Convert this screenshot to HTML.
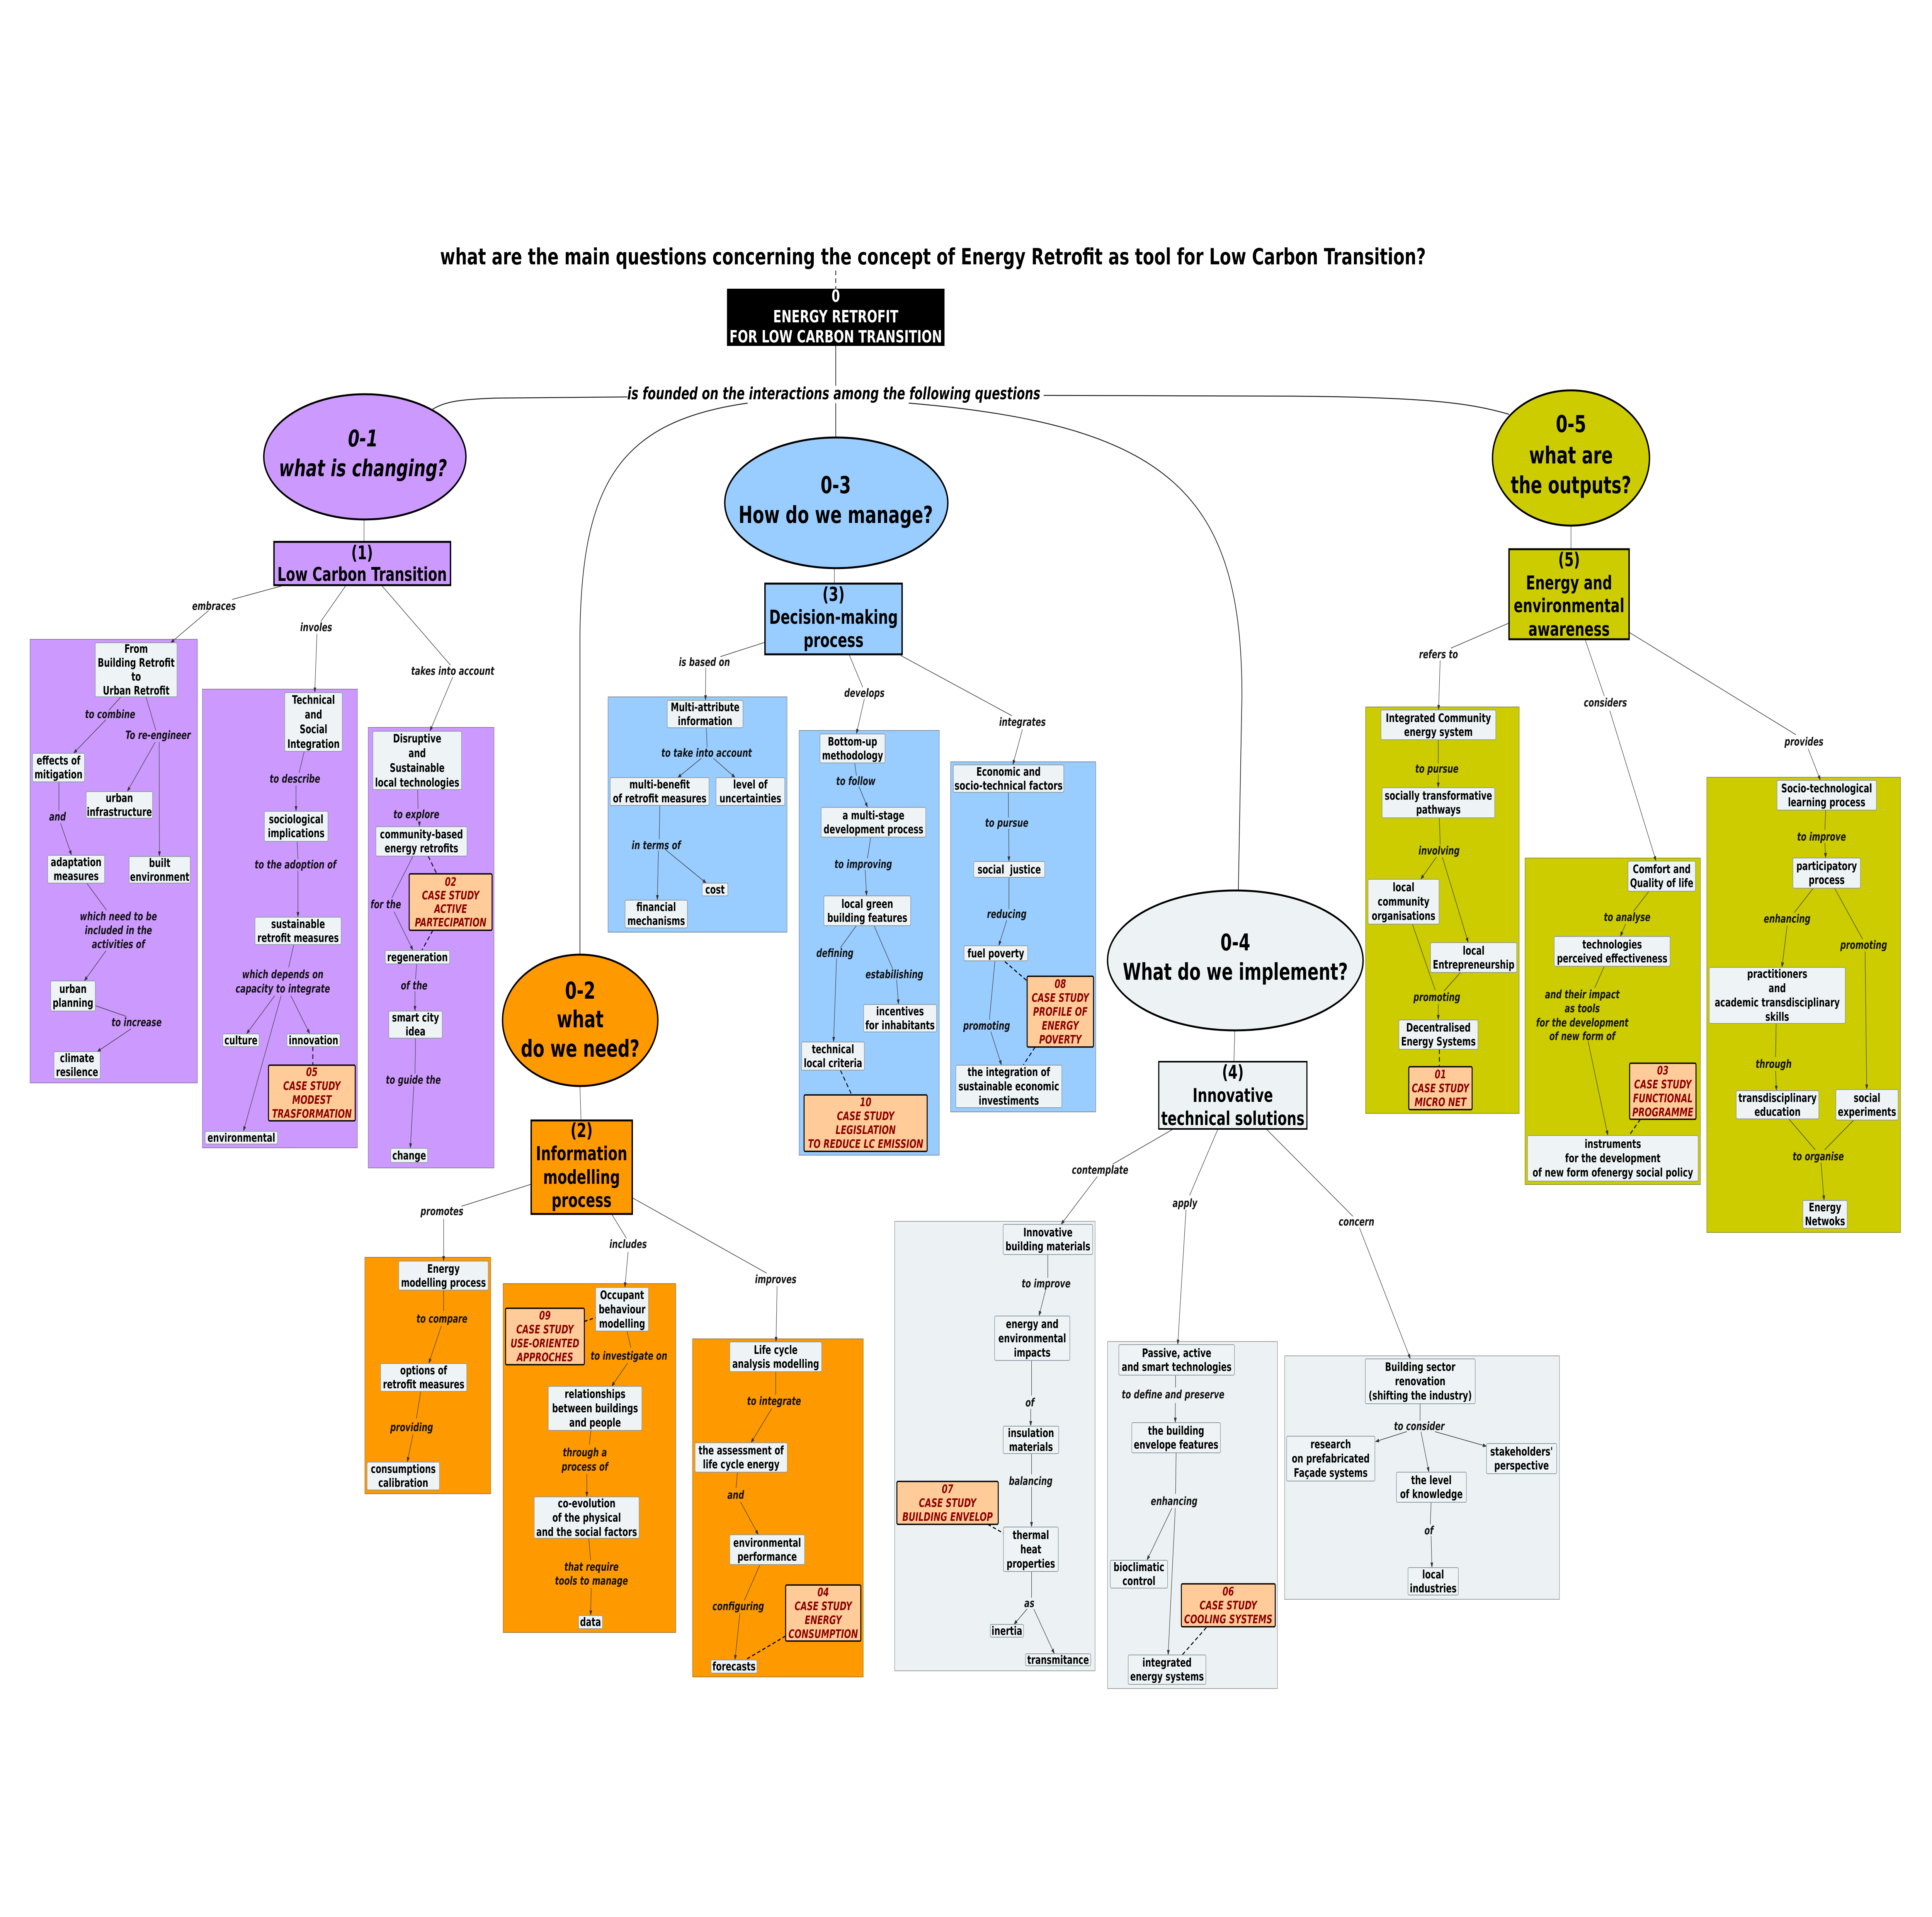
<!DOCTYPE html>
<html><head><meta charset="utf-8"><title>Energy Retrofit concept map</title>
<style>
html,body{margin:0;padding:0;background:#fff;width:100%;height:100%;overflow:hidden;}
svg{display:block;position:absolute;left:0;top:0;width:100vw;height:100vh;}
.cont{stroke:rgba(0,0,0,0.35);stroke-width:2;}
.pu{fill:#CC99FF;} .bl{fill:#99CCFF;} .ye{fill:#CCCC00;} .or{fill:#FF9900;} .gr{fill:#ECF2F4;}
.n{fill:#EEF3F5;stroke:#8E9CA3;stroke-width:2;}
.c{fill:#FFCC99;stroke:#000;stroke-width:3.5;}
.m{stroke:#000;stroke-width:5;}
.t{font:bold 30px "DejaVu Sans","Liberation Sans",sans-serif;text-anchor:middle;fill:#000;}
.ct{font:italic bold 30px "DejaVu Sans","Liberation Sans",sans-serif;text-anchor:middle;fill:#8B0000;}
.l{font:italic bold 29px "DejaVu Sans","Liberation Sans",sans-serif;text-anchor:middle;fill:#111;}
.big{font:bold 50px "DejaVu Sans","Liberation Sans",sans-serif;text-anchor:middle;fill:#000;}
.ell{font:bold 61px "DejaVu Sans","Liberation Sans",sans-serif;text-anchor:middle;fill:#000;}
.elli{font:italic bold 60px "DejaVu Sans","Liberation Sans",sans-serif;text-anchor:middle;fill:#000;}
.ln{stroke:#444;stroke-width:1.8;fill:none;}
.ar{stroke:#444;stroke-width:1.8;fill:none;marker-end:url(#a);}
.ds{stroke:#000;stroke-width:3;fill:none;stroke-dasharray:12 8;}
.mc{stroke:#222;stroke-width:2.5;fill:none;}
</style></head>
<body>
<svg xmlns="http://www.w3.org/2000/svg" viewBox="0 0 7016 4960" preserveAspectRatio="none">
<defs>
<marker id="a" markerWidth="14" markerHeight="10" refX="13" refY="5" orient="auto" markerUnits="userSpaceOnUse"><path d="M0,0 L14,5 L0,10 z" fill="#333"/></marker>
</defs>
<rect x="0" y="0" width="7016" height="4960" fill="#fff"/>

<!-- CONTAINERS -->
<rect class="cont pu" x="109" y="1654" width="608" height="1148"/>
<rect class="cont pu" x="735" y="1783" width="563" height="1187"/>
<rect class="cont pu" x="1337" y="1882" width="457" height="1140"/>
<rect class="cont bl" x="2208" y="1803" width="650" height="609"/>
<rect class="cont bl" x="2902" y="1890" width="509" height="1099"/>
<rect class="cont bl" x="3452" y="1971" width="527" height="906"/>
<rect class="cont ye" x="4959" y="1829" width="558" height="1052"/>
<rect class="cont ye" x="5538" y="2220" width="637" height="845"/>
<rect class="cont ye" x="6198" y="2011" width="704" height="1178"/>
<rect class="cont or" x="1325" y="3253" width="457" height="612"/>
<rect class="cont or" x="1827" y="3321" width="627" height="903"/>
<rect class="cont or" x="2515" y="3464" width="620" height="875"/>
<rect class="cont gr" x="3249" y="3160" width="728" height="1163"/>
<rect class="cont gr" x="4022" y="3471" width="617" height="898"/>
<rect class="cont gr" x="4665" y="3508" width="998" height="630"/>

<!-- MAIN CONNECTORS -->
<path class="ds" d="M3035,700 L3035,747" style="stroke-width:2.5"/>
<path class="mc" d="M3035,895 L3035,998"/>
<path class="mc" d="M3035,1043 L3035,1132"/>
<path class="mc" d="M2278,1027 L1800,1030 C1680,1033 1610,1038 1565,1062"/>
<path class="mc" d="M3790,1023 L4700,1025 C5150,1028 5330,1040 5480,1072"/>
<path class="mc" d="M2715,1043 C2250,1090 2110,1250 2106,1650 L2106,2470"/>
<path class="mc" d="M3300,1043 C4250,1100 4510,1280 4510,1800 L4497,2304"/>
<path class="ln" d="M1322,1344 L1322,1402"/>
<path class="ln" d="M3030,1470 L3030,1510"/>
<path class="ln" d="M5705,1360 L5705,1421"/>
<path class="ln" d="M2106,2810 L2110,2899"/>
<path class="ln" d="M4484,2666 L4481,2747"/>

<!-- A connectors -->
<path class="ln" d="M1033,1514 L843,1551"/>
<path class="ar" d="M757,1580 L620,1663"/>
<path class="ln" d="M439,1803 L395,1838"/>
<path class="ar" d="M385,1862 L267,1949"/>
<path class="ln" d="M530,1803 L566,1890"/>
<path class="ar" d="M564,1920 L462,2048"/>
<path class="ar" d="M578,1920 L579,2216"/>
<path class="ln" d="M214,2023 L214,2098"/>
<path class="ar" d="M220,2130 L260,2213"/>
<path class="ln" d="M315,2285 L387,2355"/>
<path class="ar" d="M385,2460 L306,2538"/>
<path class="ln" d="M346,2602 L459,2630"/>
<path class="ar" d="M476,2662 L353,2721"/>
<!-- B connectors -->
<path class="ln" d="M1257,1514 L1165,1608"/>
<path class="ar" d="M1151,1640 L1143,1792"/>
<path class="ln" d="M1105,1944 L1086,2000"/>
<path class="ar" d="M1075,2032 L1075,2099"/>
<path class="ln" d="M1079,2177 L1082,2223"/>
<path class="ar" d="M1082,2253 L1082,2373"/>
<path class="ln" d="M1067,2444 L1048,2503"/>
<path class="ar" d="M998,2576 L895,2675"/>
<path class="ar" d="M1056,2576 L1125,2675"/>
<path class="ar" d="M1021,2576 L884,2927"/>
<path class="ds" d="M1136,2708 L1136,2756"/>
<!-- C connectors -->
<path class="ln" d="M1385,1514 L1636,1721"/>
<path class="ar" d="M1644,1752 L1561,1892"/>
<path class="ln" d="M1517,2043 L1518,2093"/>
<path class="ar" d="M1523,2124 L1523,2139"/>
<path class="ln" d="M1500,2215 L1423,2323"/>
<path class="ar" d="M1431,2359 L1500,2459"/>
<path class="ds" d="M1555,2215 L1586,2261"/>
<path class="ds" d="M1572,2407 L1532,2459"/>
<path class="ln" d="M1513,2494 L1509,2534"/>
<path class="ar" d="M1507,2565 L1507,2616"/>
<path class="ln" d="M1509,2686 L1507,2778"/>
<path class="ar" d="M1503,2809 L1490,2971"/>
<!-- D connectors -->
<path class="ln" d="M2777,1662 L2616,1699"/>
<path class="ar" d="M2563,1728 L2562,1812"/>
<path class="ln" d="M2565,1883 L2568,1934"/>
<path class="ar" d="M2547,1962 L2461,2012"/>
<path class="ar" d="M2591,1962 L2670,2012"/>
<path class="ln" d="M2396,2084 L2394,2172"/>
<path class="ar" d="M2391,2201 L2387,2329"/>
<path class="ar" d="M2416,2198 L2565,2285"/>
<!-- E connectors -->
<path class="ln" d="M3083,1693 L3133,1778"/>
<path class="ar" d="M3139,1808 L3110,1899"/>
<path class="ln" d="M3104,1974 L3110,2007"/>
<path class="ar" d="M3119,2035 L3151,2089"/>
<path class="ln" d="M3162,2166 L3150,2221"/>
<path class="ar" d="M3142,2251 L3147,2318"/>
<path class="ln" d="M3110,2395 L3052,2452"/>
<path class="ar" d="M3038,2480 L3027,2696"/>
<path class="ln" d="M3174,2395 L3242,2507"/>
<path class="ar" d="M3256,2535 L3263,2599"/>
<path class="ds" d="M3052,2769 L3093,2833"/>
<!-- F connectors -->
<path class="ln" d="M3271,1696 L3675,1852"/>
<path class="ar" d="M3713,1887 L3678,1979"/>
<path class="ln" d="M3662,2050 L3662,2115"/>
<path class="ar" d="M3663,2144 L3664,2229"/>
<path class="ln" d="M3664,2270 L3664,2352"/>
<path class="ar" d="M3656,2381 L3627,2447"/>
<path class="ln" d="M3613,2486 L3593,2638"/>
<path class="ar" d="M3598,2669 L3637,2756"/>
<path class="ds" d="M3649,2488 L3730,2538"/>
<path class="ds" d="M3759,2709 L3716,2756"/>
<!-- G connectors -->
<path class="ln" d="M5480,1612 L5269,1677"/>
<path class="ar" d="M5230,1709 L5224,1837"/>
<path class="ln" d="M5223,1914 L5223,1975"/>
<path class="ar" d="M5223,2004 L5223,2038"/>
<path class="ln" d="M5227,2116 L5230,2185"/>
<path class="ar" d="M5216,2218 L5159,2275"/>
<path class="ar" d="M5238,2218 L5332,2439"/>
<path class="ln" d="M5129,2391 L5212,2562"/>
<path class="ln" d="M5304,2516 L5244,2564"/>
<path class="ar" d="M5223,2597 L5223,2639"/>
<path class="ds" d="M5227,2715 L5227,2760"/>
<!-- H connectors -->
<path class="ln" d="M5756,1654 L5826,1801"/>
<path class="ar" d="M5846,1839 L6014,2228"/>
<path class="ln" d="M5988,2306 L5932,2358"/>
<path class="ar" d="M5903,2391 L5884,2423"/>
<path class="ln" d="M5826,2500 L5791,2556"/>
<path class="ar" d="M5767,2694 L5839,2938"/>
<path class="ds" d="M5957,2896 L5916,2938"/>
<!-- I connectors -->
<path class="ln" d="M5916,1636 L6522,1901"/>
<path class="ar" d="M6566,1937 L6611,2019"/>
<path class="ln" d="M6630,2096 L6627,2147"/>
<path class="ar" d="M6627,2181 L6630,2220"/>
<path class="ln" d="M6585,2298 L6515,2362"/>
<path class="ar" d="M6490,2395 L6471,2503"/>
<path class="ln" d="M6662,2298 L6764,2430"/>
<path class="ar" d="M6773,2462 L6779,2819"/>
<path class="ln" d="M6450,2648 L6448,2735"/>
<path class="ar" d="M6448,2771 L6451,2822"/>
<path class="ln" d="M6496,2895 L6592,2975"/>
<path class="ln" d="M6732,2898 L6626,2975"/>
<path class="ar" d="M6613,3008 L6624,3106"/>
<!-- J connectors -->
<path class="ln" d="M1929,3064 L1676,3121"/>
<path class="ar" d="M1611,3154 L1611,3263"/>
<path class="ln" d="M1611,3338 L1611,3392"/>
<path class="ar" d="M1603,3430 L1557,3528"/>
<path class="ln" d="M1528,3600 L1512,3670"/>
<path class="ar" d="M1500,3711 L1479,3783"/>
<!-- K connectors -->
<path class="ln" d="M2221,3141 L2275,3204"/>
<path class="ar" d="M2281,3239 L2269,3331"/>
<path class="ds" d="M2122,3419 L2163,3409"/>
<path class="ln" d="M2277,3444 L2291,3487"/>
<path class="ar" d="M2279,3527 L2221,3587"/>
<path class="ln" d="M2146,3701 L2140,3738"/>
<path class="ar" d="M2131,3814 L2131,3873"/>
<path class="ln" d="M2138,3980 L2145,4037"/>
<path class="ar" d="M2147,4108 L2145,4180"/>
<!-- L connectors -->
<path class="ln" d="M2296,3099 L2784,3294"/>
<path class="ar" d="M2822,3328 L2818,3472"/>
<path class="ln" d="M2817,3549 L2817,3609"/>
<path class="ar" d="M2803,3644 L2727,3733"/>
<path class="ln" d="M2678,3809 L2673,3850"/>
<path class="ar" d="M2689,3886 L2754,3971"/>
<path class="ln" d="M2760,4048 L2703,4141"/>
<path class="ar" d="M2687,4174 L2669,4295"/>
<path class="ds" d="M2853,4233 L2706,4295"/>
<!-- M connectors -->
<path class="ln" d="M4261,2921 L4041,3012"/>
<path class="ar" d="M3985,3044 L3853,3168"/>
<path class="ln" d="M3805,3246 L3805,3306"/>
<path class="ar" d="M3797,3338 L3773,3405"/>
<path class="ln" d="M3746,3520 L3746,3611"/>
<path class="ar" d="M3743,3645 L3743,3690"/>
<path class="ln" d="M3746,3761 L3746,3815"/>
<path class="ar" d="M3746,3847 L3746,3951"/>
<path class="ln" d="M3746,4066 L3746,4134"/>
<path class="ar" d="M3730,4163 L3682,4203"/>
<path class="ar" d="M3754,4163 L3829,4279"/>
<path class="ds" d="M3587,3944 L3644,3967"/>
<!-- N connectors -->
<path class="ln" d="M4423,2921 L4320,3093"/>
<path class="ar" d="M4307,3130 L4277,3479"/>
<path class="ln" d="M4269,3558 L4269,3590"/>
<path class="ar" d="M4268,3630 L4268,3681"/>
<path class="ln" d="M4271,3759 L4269,3865"/>
<path class="ar" d="M4256,3902 L4165,4037"/>
<path class="ar" d="M4268,3902 L4242,4282"/>
<path class="ds" d="M4381,4211 L4293,4282"/>
<!-- O connectors -->
<path class="ln" d="M4598,2921 L4913,3147"/>
<path class="ar" d="M4937,3177 L5122,3516"/>
<path class="ln" d="M5157,3632 L5157,3676"/>
<path class="ar" d="M5109,3704 L4995,3730"/>
<path class="ar" d="M5210,3704 L5398,3742"/>
<path class="ar" d="M5160,3704 L5189,3809"/>
<path class="ln" d="M5197,3887 L5194,3944"/>
<path class="ar" d="M5197,3974 L5200,4056"/>

<!-- TITLE -->
<text x="3388" y="684" textLength="3580" lengthAdjust="spacingAndGlyphs" style="font:bold 58px 'DejaVu Sans','Liberation Sans',sans-serif;text-anchor:middle;fill:#000;">what are the main questions concerning the concept of Energy Retrofit as tool for Low Carbon Transition?</text>

<!-- ROOT -->
<rect x="2640" y="747" width="790" height="148" fill="#000"/>
<text style="font:bold 44px 'DejaVu Sans','Liberation Sans',sans-serif;text-anchor:middle;fill:#fff;">
<tspan x="3035" y="781">0</tspan><tspan x="3035" y="834">ENERGY RETROFIT</tspan><tspan x="3035" y="886" textLength="772" lengthAdjust="spacingAndGlyphs">FOR LOW CARBON TRANSITION</tspan></text>

<text x="3028" y="1033" textLength="1500" lengthAdjust="spacingAndGlyphs" style="font:italic bold 44px 'DejaVu Sans','Liberation Sans',sans-serif;text-anchor:middle;fill:#000;">is founded on the interactions among the following questions</text>

<!-- ELLIPSES -->
<ellipse class="m" cx="1325" cy="1182" rx="367" ry="162" fill="#CC99FF"/>
<text class="elli"><tspan x="1318" y="1155">0-1</tspan><tspan x="1318" y="1232">what is changing?</tspan></text>
<ellipse class="m" cx="3037" cy="1301" rx="405" ry="169" fill="#99CCFF"/>
<text class="ell"><tspan x="3035" y="1276">0-3</tspan><tspan x="3035" y="1353">How do we manage?</tspan></text>
<ellipse class="m" cx="5705" cy="1185" rx="285" ry="175" fill="#CCCC00"/>
<text class="ell"><tspan x="5705" y="1118">0-5</tspan><tspan x="5705" y="1199">what are</tspan><tspan x="5705" y="1276">the outputs?</tspan></text>
<ellipse class="m" cx="2107" cy="2640" rx="282" ry="170" fill="#FF9900"/>
<text class="ell"><tspan x="2107" y="2584">0-2</tspan><tspan x="2107" y="2658">what</tspan><tspan x="2107" y="2734">do we need?</tspan></text>
<ellipse class="m" cx="4486" cy="2485" rx="464" ry="181" fill="#EDF3F5"/>
<text class="ell" style="font-size:60px"><tspan x="4486" y="2459">0-4</tspan><tspan x="4486" y="2535">What do we implement?</tspan></text>

<!-- MAIN NODES -->
<rect class="m" x="995" y="1402" width="641" height="112" fill="#CC99FF"/>
<text class="big" style="font-size:49px"><tspan x="1315" y="1447">(1)</tspan><tspan x="1315" y="1503">Low Carbon Transition</tspan></text>
<rect class="m" x="2778" y="1510" width="498" height="183" fill="#99CCFF"/>
<text class="big"><tspan x="3027" y="1555">(3)</tspan><tspan x="3027" y="1614">Decision-making</tspan><tspan x="3027" y="1674">process</tspan></text>
<rect class="m" x="5480" y="1421" width="436" height="233" fill="#CCCC00"/>
<text class="big" style="font-size:49px"><tspan x="5698" y="1465">(5)</tspan><tspan x="5698" y="1525">Energy and</tspan><tspan x="5698" y="1584">environmental</tspan><tspan x="5698" y="1645">awareness</tspan></text>
<rect class="m" x="1929" y="2899" width="367" height="242" fill="#FF9900"/>
<text class="big"><tspan x="2112" y="2942">(2)</tspan><tspan x="2112" y="3002">Information</tspan><tspan x="2112" y="3063">modelling</tspan><tspan x="2112" y="3123">process</tspan></text>
<rect class="m" x="4208" y="2747" width="538" height="174" fill="#EDF3F5" style="stroke-width:4"/>
<text class="big" style="font-size:49px"><tspan x="4477" y="2791">(4)</tspan><tspan x="4477" y="2851">Innovative</tspan><tspan x="4477" y="2911">technical solutions</tspan></text>

<!-- A nodes -->
<rect class="n" x="346" y="1663" width="297" height="140" rx="4"/>
<text class="t"><tspan x="494.5" y="1689">From</tspan><tspan x="494.5" y="1725">Building Retrofit</tspan><tspan x="494.5" y="1761">to</tspan><tspan x="494.5" y="1797">Urban Retrofit</tspan></text>
<rect class="n" x="118" y="1949" width="189" height="74" rx="4"/>
<text class="t"><tspan x="212.5" y="1978">effects of</tspan><tspan x="212.5" y="2014">mitigation</tspan></text>
<rect class="n" x="313" y="2048" width="241" height="69" rx="4"/>
<text class="t"><tspan x="433.5" y="2075">urban</tspan><tspan x="433.5" y="2111">infrastructure</tspan></text>
<rect class="n" x="173" y="2213" width="207" height="72" rx="4"/>
<text class="t"><tspan x="276.5" y="2241">adaptation</tspan><tspan x="276.5" y="2277">measures</tspan></text>
<rect class="n" x="469" y="2216" width="222" height="69" rx="4"/>
<text class="t"><tspan x="580" y="2243">built</tspan><tspan x="580" y="2279">environment</tspan></text>
<rect class="n" x="184" y="2538" width="162" height="78" rx="4"/>
<text class="t"><tspan x="265" y="2569">urban</tspan><tspan x="265" y="2605">planning</tspan></text>
<rect class="n" x="196" y="2721" width="168" height="70" rx="4"/>
<text class="t"><tspan x="280" y="2748">climate</tspan><tspan x="280" y="2784">resilence</tspan></text>
<!-- A labels -->
<text class="l" x="777" y="1578">embraces</text>
<text class="l" x="400" y="1858">to combine</text>
<text class="l" x="574" y="1912">To re-engineer</text>
<text class="l" x="209" y="2123">and</text>
<text class="l"><tspan x="430" y="2381">which need to be</tspan><tspan x="430" y="2417">included in the</tspan><tspan x="430" y="2453">activities of</tspan></text>
<text class="l" x="496" y="2655">to increase</text>

<!-- B nodes -->
<rect class="n" x="1034" y="1792" width="209" height="152" rx="4"/>
<text class="t"><tspan x="1138.5" y="1821">Technical</tspan><tspan x="1138.5" y="1859">and</tspan><tspan x="1138.5" y="1897">Social</tspan><tspan x="1138.5" y="1935">Integration</tspan></text>
<rect class="n" x="960" y="2099" width="231" height="78" rx="4"/>
<text class="t"><tspan x="1075.5" y="2130">sociological</tspan><tspan x="1075.5" y="2166">implications</tspan></text>
<rect class="n" x="926" y="2373" width="313" height="71" rx="4"/>
<text class="t"><tspan x="1082.5" y="2401">sustainable</tspan><tspan x="1082.5" y="2437">retrofit measures</tspan></text>
<rect class="n" x="809" y="2675" width="132" height="33" rx="4"/>
<text class="t" x="875" y="2702">culture</text>
<rect class="n" x="1042" y="2675" width="193" height="33" rx="4"/>
<text class="t" x="1138.5" y="2702">innovation</text>
<rect class="c" x="975" y="2756" width="315" height="144" rx="4"/>
<text class="ct"><tspan x="1132.5" y="2784">05</tspan><tspan x="1132.5" y="2820">CASE STUDY</tspan><tspan x="1132.5" y="2856">MODEST</tspan><tspan x="1132.5" y="2892">TRASFORMATION</tspan></text>
<rect class="n" x="745" y="2927" width="263" height="33" rx="4"/>
<text class="t" x="876.5" y="2954">environmental</text>
<!-- B labels -->
<text class="l" x="1148" y="1633">involes</text>
<text class="l" x="1071" y="2025">to describe</text>
<text class="l" x="1073" y="2247">to the adoption of</text>
<text class="l"><tspan x="1027" y="2531">which depends on</tspan><tspan x="1027" y="2568">capacity to integrate</tspan></text>

<!-- C nodes -->
<rect class="n" x="1354" y="1892" width="322" height="151" rx="4"/>
<text class="t"><tspan x="1515" y="1921">Disruptive</tspan><tspan x="1515" y="1959">and</tspan><tspan x="1515" y="1997">Sustainable</tspan><tspan x="1515" y="2035">local technologies</tspan></text>
<rect class="n" x="1365" y="2139" width="331" height="76" rx="4"/>
<text class="t"><tspan x="1530.5" y="2169">community-based</tspan><tspan x="1530.5" y="2205">energy retrofits</tspan></text>
<rect class="c" x="1486" y="2261" width="301" height="146" rx="4"/>
<text class="ct"><tspan x="1636.5" y="2292">02</tspan><tspan x="1636.5" y="2327">CASE STUDY</tspan><tspan x="1636.5" y="2362">ACTIVE</tspan><tspan x="1636.5" y="2397">PARTECIPATION</tspan></text>
<rect class="n" x="1399" y="2459" width="234" height="35" rx="4"/>
<text class="t" x="1516" y="2487">regeneration</text>
<rect class="n" x="1412" y="2616" width="194" height="70" rx="4"/>
<text class="t"><tspan x="1509" y="2643">smart city</tspan><tspan x="1509" y="2679">idea</tspan></text>
<rect class="n" x="1419" y="2971" width="134" height="37" rx="4"/>
<text class="t" x="1486" y="3000">change</text>
<!-- C labels -->
<text class="l" x="1644" y="1746">takes into account</text>
<text class="l" x="1512" y="2117">to explore</text>
<text class="l" x="1401" y="2350">for the</text>
<text class="l" x="1504" y="2560">of the</text>
<text class="l" x="1501" y="2804">to guide the</text>

<!-- D nodes -->
<rect class="n" x="2423" y="1812" width="275" height="71" rx="4"/>
<text class="t"><tspan x="2560.5" y="1840">Multi-attribute</tspan><tspan x="2560.5" y="1876">information</tspan></text>
<rect class="n" x="2216" y="2012" width="359" height="72" rx="4"/>
<text class="t"><tspan x="2395.5" y="2040">multi-benefit</tspan><tspan x="2395.5" y="2076">of retrofit measures</tspan></text>
<rect class="n" x="2600" y="2012" width="250" height="72" rx="4"/>
<text class="t"><tspan x="2725" y="2040">level of</tspan><tspan x="2725" y="2076">uncertainties</tspan></text>
<rect class="n" x="2550" y="2285" width="93" height="33" rx="4"/>
<text class="t" x="2596.5" y="2312">cost</text>
<rect class="n" x="2270" y="2329" width="226" height="72" rx="4"/>
<text class="t"><tspan x="2383" y="2357">financial</tspan><tspan x="2383" y="2393">mechanisms</tspan></text>
<!-- D labels -->
<text class="l" x="2558" y="1723">is based on</text>
<text class="l" x="2566" y="1958">to take into account</text>
<text class="l" x="2383" y="2197">in terms of</text>

<!-- E nodes -->
<rect class="n" x="2978" y="1899" width="236" height="75" rx="4"/>
<text class="t"><tspan x="3096" y="1929">Bottom-up</tspan><tspan x="3096" y="1965">methodology</tspan></text>
<rect class="n" x="2982" y="2089" width="380" height="77" rx="4"/>
<text class="t"><tspan x="3172" y="2120">a multi-stage</tspan><tspan x="3172" y="2156">development process</tspan></text>
<rect class="n" x="2992" y="2318" width="315" height="77" rx="4"/>
<text class="t"><tspan x="3149.5" y="2349">local green</tspan><tspan x="3149.5" y="2385">building features</tspan></text>
<rect class="n" x="3136" y="2599" width="265" height="71" rx="4"/>
<text class="t"><tspan x="3268.5" y="2627">incentives</tspan><tspan x="3268.5" y="2663">for inhabitants</tspan></text>
<rect class="n" x="2911" y="2696" width="228" height="73" rx="4"/>
<text class="t"><tspan x="3025" y="2725">technical</tspan><tspan x="3025" y="2761">local criteria</tspan></text>
<rect class="c" x="2920" y="2833" width="447" height="146" rx="4"/>
<text class="ct"><tspan x="3143.5" y="2862">10</tspan><tspan x="3143.5" y="2898">CASE STUDY</tspan><tspan x="3143.5" y="2934">LEGISLATION</tspan><tspan x="3143.5" y="2970">TO REDUCE LC EMISSION</tspan></text>
<!-- E labels -->
<text class="l" x="3139" y="1803">develops</text>
<text class="l" x="3108" y="2031">to follow</text>
<text class="l" x="3135" y="2246">to improving</text>
<text class="l" x="3032" y="2476">defining</text>
<text class="l" x="3248" y="2531">estabilishing</text>

<!-- F nodes -->
<rect class="n" x="3462" y="1979" width="401" height="71" rx="4"/>
<text class="t"><tspan x="3662.5" y="2007">Economic and</tspan><tspan x="3662.5" y="2043" textLength="393" lengthAdjust="spacingAndGlyphs">socio-technical factors</tspan></text>
<rect class="n" x="3536" y="2229" width="258" height="41" rx="4"/>
<text class="t" x="3665" y="2260">social&#160; justice</text>
<rect class="n" x="3501" y="2447" width="231" height="39" rx="4"/>
<text class="t" x="3616.5" y="2477">fuel poverty</text>
<rect class="c" x="3730" y="2526" width="241" height="183" rx="4"/>
<text class="ct"><tspan x="3850.5" y="2556">08</tspan><tspan x="3850.5" y="2592">CASE STUDY</tspan><tspan x="3850.5" y="2628">PROFILE OF</tspan><tspan x="3850.5" y="2664">ENERGY</tspan><tspan x="3850.5" y="2700">POVERTY</tspan></text>
<rect class="n" x="3471" y="2756" width="385" height="110" rx="4"/>
<text class="t"><tspan x="3663.5" y="2784">the integration of</tspan><tspan x="3663.5" y="2821">sustainable economic</tspan><tspan x="3663.5" y="2858">investiments</tspan></text>
<!-- F labels -->
<text class="l" x="3713" y="1878">integrates</text>
<text class="l" x="3656" y="2139">to pursue</text>
<text class="l" x="3656" y="2375">reducing</text>
<text class="l" x="3583" y="2664">promoting</text>

<!-- G nodes -->
<rect class="n" x="5015" y="1837" width="417" height="77" rx="4"/>
<text class="t"><tspan x="5223.5" y="1868">Integrated Community</tspan><tspan x="5223.5" y="1904">energy system</tspan></text>
<rect class="n" x="5019" y="2038" width="409" height="78" rx="4"/>
<text class="t"><tspan x="5223.5" y="2069">socially transformative</tspan><tspan x="5223.5" y="2105">pathways</tspan></text>
<rect class="n" x="4968" y="2275" width="258" height="116" rx="4"/>
<text class="t"><tspan x="5097" y="2306">local</tspan><tspan x="5097" y="2343">community</tspan><tspan x="5097" y="2380">organisations</tspan></text>
<rect class="n" x="5195" y="2439" width="313" height="77" rx="4"/>
<text class="t"><tspan x="5351.5" y="2470">local</tspan><tspan x="5351.5" y="2506">Entrepreneurship</tspan></text>
<rect class="n" x="5080" y="2639" width="287" height="76" rx="4"/>
<text class="t"><tspan x="5223.5" y="2669">Decentralised</tspan><tspan x="5223.5" y="2705">Energy Systems</tspan></text>
<rect class="c" x="5116" y="2760" width="230" height="111" rx="4"/>
<text class="ct"><tspan x="5231" y="2790">01</tspan><tspan x="5231" y="2826">CASE STUDY</tspan><tspan x="5231" y="2862">MICRO NET</tspan></text>
<!-- G labels -->
<text class="l" x="5224" y="1703">refers to</text>
<text class="l" x="5218" y="1999">to pursue</text>
<text class="l" x="5226" y="2211">involving</text>
<text class="l" x="5218" y="2590">promoting</text>

<!-- H nodes -->
<rect class="n" x="5912" y="2228" width="245" height="78" rx="4"/>
<text class="t"><tspan x="6034.5" y="2259">Comfort and</tspan><tspan x="6034.5" y="2295">Quality of life</tspan></text>
<rect class="n" x="5644" y="2423" width="421" height="77" rx="4"/>
<text class="t"><tspan x="5854.5" y="2454">technologies</tspan><tspan x="5854.5" y="2490">perceived effectiveness</tspan></text>
<rect class="c" x="5918" y="2751" width="241" height="145" rx="4"/>
<text class="ct"><tspan x="6038.5" y="2780">03</tspan><tspan x="6038.5" y="2816">CASE STUDY</tspan><tspan x="6038.5" y="2852">FUNCTIONAL</tspan><tspan x="6038.5" y="2888">PROGRAMME</tspan></text>
<rect class="n" x="5547" y="2938" width="620" height="118" rx="4"/>
<text class="t"><tspan x="5857" y="2970">instruments</tspan><tspan x="5857" y="3007">for the development</tspan><tspan x="5857" y="3044">of new form ofenergy social policy</tspan></text>
<!-- H labels -->
<text class="l" x="5830" y="1828">considers</text>
<text class="l" x="5909" y="2383">to analyse</text>
<text class="l"><tspan x="5746" y="2583">and their impact</tspan><tspan x="5746" y="2619">as tools</tspan><tspan x="5746" y="2656">for the development</tspan><tspan x="5746" y="2691">of new form of</tspan></text>

<!-- I nodes -->
<rect class="n" x="6453" y="2019" width="361" height="77" rx="4"/>
<text class="t"><tspan x="6633.5" y="2050">Socio-technological</tspan><tspan x="6633.5" y="2086">learning process</tspan></text>
<rect class="n" x="6511" y="2220" width="245" height="78" rx="4"/>
<text class="t"><tspan x="6633.5" y="2251">participatory</tspan><tspan x="6633.5" y="2287">process</tspan></text>
<rect class="n" x="6207" y="2503" width="494" height="145" rx="4"/>
<text class="t"><tspan x="6454" y="2530">practitioners</tspan><tspan x="6454" y="2567">and</tspan><tspan x="6454" y="2604">academic transdisciplinary</tspan><tspan x="6454" y="2641">skills</tspan></text>
<rect class="n" x="6305" y="2822" width="300" height="73" rx="4"/>
<text class="t"><tspan x="6455" y="2851">transdisciplinary</tspan><tspan x="6455" y="2887">education</tspan></text>
<rect class="n" x="6667" y="2819" width="226" height="79" rx="4"/>
<text class="t"><tspan x="6780" y="2851">social</tspan><tspan x="6780" y="2887">experiments</tspan></text>
<rect class="n" x="6547" y="3106" width="161" height="72" rx="4"/>
<text class="t"><tspan x="6627.5" y="3134">Energy</tspan><tspan x="6627.5" y="3170">Netwoks</tspan></text>
<!-- I labels -->
<text class="l" x="6551" y="1929">provides</text>
<text class="l" x="6615" y="2175">to improve</text>
<text class="l" x="6490" y="2387">enhancing</text>
<text class="l" x="6768" y="2455">promoting</text>
<text class="l" x="6441" y="2763">through</text>
<text class="l" x="6603" y="3002">to organise</text>

<!-- J nodes -->
<rect class="n" x="1448" y="3263" width="325" height="75" rx="4"/>
<text class="t"><tspan x="1610.5" y="3293">Energy</tspan><tspan x="1610.5" y="3329">modelling process</tspan></text>
<rect class="n" x="1382" y="3528" width="313" height="72" rx="4"/>
<text class="t"><tspan x="1538.5" y="3556">options of</tspan><tspan x="1538.5" y="3592">retrofit measures</tspan></text>
<rect class="n" x="1333" y="3783" width="263" height="72" rx="4"/>
<text class="t"><tspan x="1464.5" y="3811">consumptions</tspan><tspan x="1464.5" y="3847">calibration</tspan></text>
<!-- J labels -->
<text class="l" x="1605" y="3144">promotes</text>
<text class="l" x="1605" y="3422">to compare</text>
<text class="l" x="1495" y="3703">providing</text>

<!-- K nodes -->
<rect class="n" x="2163" y="3331" width="192" height="113" rx="4"/>
<text class="t"><tspan x="2259" y="3361">Occupant</tspan><tspan x="2259" y="3398">behaviour</tspan><tspan x="2259" y="3435">modelling</tspan></text>
<rect class="c" x="1836" y="3385" width="286" height="146" rx="4"/>
<text class="ct"><tspan x="1979" y="3414">09</tspan><tspan x="1979" y="3450">CASE STUDY</tspan><tspan x="1979" y="3486">USE-ORIENTED</tspan><tspan x="1979" y="3522">APPROCHES</tspan></text>
<rect class="n" x="1991" y="3587" width="340" height="114" rx="4"/>
<text class="t"><tspan x="2161" y="3617">relationships</tspan><tspan x="2161" y="3654">between buildings</tspan><tspan x="2161" y="3691">and people</tspan></text>
<rect class="n" x="1940" y="3873" width="381" height="107" rx="4"/>
<text class="t"><tspan x="2130.5" y="3900">co-evolution</tspan><tspan x="2130.5" y="3937">of the physical</tspan><tspan x="2130.5" y="3974">and the social factors</tspan></text>
<rect class="n" x="2101" y="4180" width="87" height="34" rx="4"/>
<text class="t" x="2144.5" y="4207">data</text>
<!-- K labels -->
<text class="l" x="2281" y="3229">includes</text>
<text class="l" x="2284" y="3518">to investigate on</text>
<text class="l"><tspan x="2124" y="3768">through a</tspan><tspan x="2124" y="3805">process of</tspan></text>
<text class="l"><tspan x="2148" y="4064">that require</tspan><tspan x="2148" y="4100">tools to manage</tspan></text>

<!-- L nodes -->
<rect class="n" x="2650" y="3472" width="334" height="77" rx="4"/>
<text class="t"><tspan x="2817" y="3503">Life cycle</tspan><tspan x="2817" y="3539">analysis modelling</tspan></text>
<rect class="n" x="2524" y="3733" width="335" height="76" rx="4"/>
<text class="t"><tspan x="2691.5" y="3763">the assessment of</tspan><tspan x="2691.5" y="3799">life cycle energy</tspan></text>
<rect class="n" x="2650" y="3971" width="272" height="77" rx="4"/>
<text class="t"><tspan x="2786" y="4002">environmental</tspan><tspan x="2786" y="4038">performance</tspan></text>
<rect class="c" x="2853" y="4101" width="273" height="145" rx="4"/>
<text class="ct"><tspan x="2989.5" y="4130">04</tspan><tspan x="2989.5" y="4166">CASE STUDY</tspan><tspan x="2989.5" y="4202">ENERGY</tspan><tspan x="2989.5" y="4238">CONSUMPTION</tspan></text>
<rect class="n" x="2582" y="4295" width="167" height="34" rx="4"/>
<text class="t" x="2665.5" y="4322">forecasts</text>
<!-- L labels -->
<text class="l" x="2817" y="3320">improves</text>
<text class="l" x="2811" y="3635">to integrate</text>
<text class="l" x="2672" y="3878">and</text>
<text class="l" x="2681" y="4166">configuring</text>

<!-- M nodes -->
<rect class="n" x="3643" y="3168" width="325" height="78" rx="4"/>
<text class="t"><tspan x="3805.5" y="3199">Innovative</tspan><tspan x="3805.5" y="3235">building materials</tspan></text>
<rect class="n" x="3612" y="3405" width="273" height="115" rx="4"/>
<text class="t"><tspan x="3748.5" y="3436">energy and</tspan><tspan x="3748.5" y="3473">environmental</tspan><tspan x="3748.5" y="3510">impacts</tspan></text>
<rect class="n" x="3643" y="3690" width="202" height="71" rx="4"/>
<text class="t"><tspan x="3744" y="3718">insulation</tspan><tspan x="3744" y="3754">materials</tspan></text>
<rect class="c" x="3257" y="3833" width="368" height="111" rx="4"/>
<text class="ct"><tspan x="3441" y="3863">07</tspan><tspan x="3441" y="3899">CASE STUDY</tspan><tspan x="3441" y="3935">BUILDING ENVELOP</tspan></text>
<rect class="n" x="3644" y="3951" width="199" height="115" rx="4"/>
<text class="t"><tspan x="3743.5" y="3982">thermal</tspan><tspan x="3743.5" y="4019">heat</tspan><tspan x="3743.5" y="4056">properties</tspan></text>
<rect class="n" x="3596" y="4203" width="121" height="33" rx="4"/>
<text class="t" x="3656.5" y="4230">inertia</text>
<rect class="n" x="3724" y="4279" width="237" height="31" rx="4"/>
<text class="t" x="3842.5" y="4305">transmitance</text>
<!-- M labels -->
<text class="l" x="3995" y="3037">contemplate</text>
<text class="l" x="3799" y="3331">to improve</text>
<text class="l" x="3740" y="3639">of</text>
<text class="l" x="3743" y="3842">balancing</text>
<text class="l" x="3738" y="4158">as</text>

<!-- N nodes -->
<rect class="n" x="4063" y="3479" width="420" height="79" rx="4"/>
<text class="t"><tspan x="4273" y="3511">Passive, active</tspan><tspan x="4273" y="3547">and smart technologies</tspan></text>
<rect class="n" x="4110" y="3681" width="322" height="78" rx="4"/>
<text class="t"><tspan x="4271" y="3712">the building</tspan><tspan x="4271" y="3748">envelope features</tspan></text>
<rect class="n" x="4032" y="4037" width="208" height="72" rx="4"/>
<text class="t"><tspan x="4136" y="4065">bioclimatic</tspan><tspan x="4136" y="4101">control</tspan></text>
<rect class="c" x="4290" y="4098" width="341" height="111" rx="4"/>
<text class="ct"><tspan x="4460.5" y="4128">06</tspan><tspan x="4460.5" y="4164">CASE STUDY</tspan><tspan x="4460.5" y="4200">COOLING SYSTEMS</tspan></text>
<rect class="n" x="4097" y="4282" width="282" height="76" rx="4"/>
<text class="t"><tspan x="4238" y="4312">integrated</tspan><tspan x="4238" y="4348">energy systems</tspan></text>
<!-- N labels -->
<text class="l" x="4303" y="3123">apply</text>
<text class="l" x="4260" y="3618">to define and preserve</text>
<text class="l" x="4264" y="3894">enhancing</text>

<!-- O nodes -->
<rect class="n" x="4958" y="3516" width="399" height="116" rx="4"/>
<text class="t"><tspan x="5157.5" y="3547">Building sector</tspan><tspan x="5157.5" y="3584">renovation</tspan><tspan x="5157.5" y="3621">(shifting the industry)</tspan></text>
<rect class="n" x="4672" y="3716" width="321" height="116" rx="4"/>
<text class="t"><tspan x="4832.5" y="3747">research</tspan><tspan x="4832.5" y="3784">on prefabricated</tspan><tspan x="4832.5" y="3821">Façade systems</tspan></text>
<rect class="n" x="5071" y="3809" width="254" height="78" rx="4"/>
<text class="t"><tspan x="5198" y="3840">the level</tspan><tspan x="5198" y="3876">of knowledge</tspan></text>
<rect class="n" x="5398" y="3735" width="255" height="78" rx="4"/>
<text class="t"><tspan x="5525.5" y="3766">stakeholders'</tspan><tspan x="5525.5" y="3802">perspective</tspan></text>
<rect class="n" x="5113" y="4056" width="183" height="71" rx="4"/>
<text class="t"><tspan x="5204.5" y="4084">local</tspan><tspan x="5204.5" y="4120">industries</tspan></text>
<!-- O labels -->
<text class="l" x="4926" y="3171">concern</text>
<text class="l" x="5154" y="3700">to consider</text>
<text class="l" x="5189" y="3970">of</text>

</svg>
</body></html>
